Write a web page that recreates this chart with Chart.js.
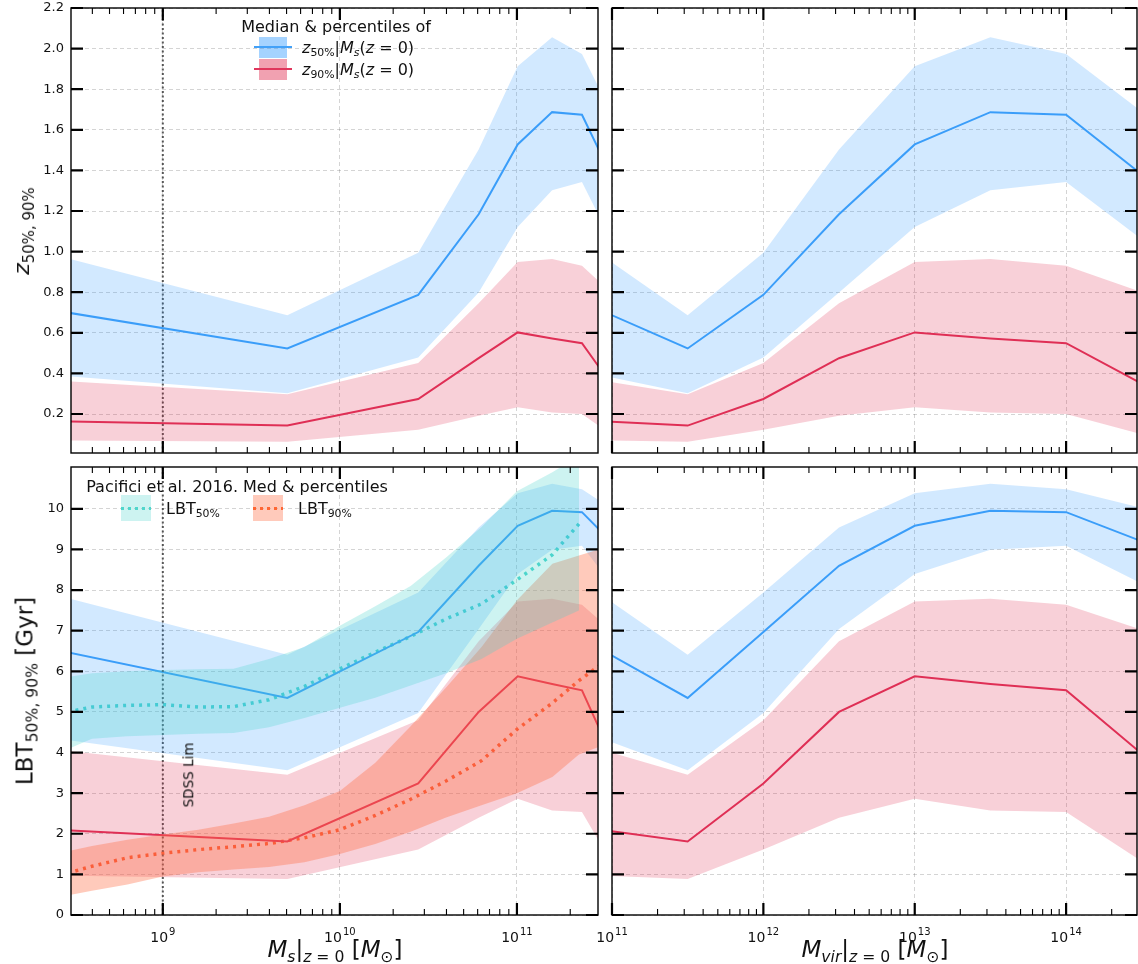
<!DOCTYPE html>
<html>
<head>
<meta charset="utf-8">
<title>Formation redshift and lookback time vs mass</title>
<script src="https://cdn.jsdelivr.net/npm/chart.js@4.4.1/dist/chart.umd.min.js"></script>
<style>
  html, body { margin: 0; padding: 0; background: #fff; }
  #fig { position: relative; width: 1138px; height: 964px; overflow: hidden; font-family: 'DejaVu Sans', sans-serif; color: #111; }
  #fig canvas { position: absolute; left: 0; top: 0; }
  .txt { position: absolute; white-space: nowrap; line-height: 1; }
  .rot { transform: translate(-50%, -50%) rotate(-90deg); }
  .ctr { transform: translate(-50%, -50%); }
  .mid { transform: translateY(-50%); }
  .m { font-style: italic; }
  sub { font-size: 0.68em; vertical-align: -0.32em; line-height: 0; }
  .box { position: absolute; }
</style>
</head>
<body>
<div id="fig">
  <canvas id="tl" width="1138" height="964"></canvas>
  <canvas id="tr" width="1138" height="964"></canvas>
  <canvas id="bl" width="1138" height="964"></canvas>
  <canvas id="br" width="1138" height="964"></canvas>

  <!-- top-left legend -->
  <div class="txt ctr" style="left:336px;top:27px;font-size:16px">Median &amp; percentiles of</div>
  <div class="box" style="left:259px;top:37px;width:28px;height:21px;background:rgba(30,144,255,0.4)"></div>
  <div class="box" style="left:254px;top:46px;width:38px;height:2px;background:#42a1f8"></div>
  <div class="box" style="left:259px;top:59px;width:28px;height:21px;background:rgba(220,20,60,0.4)"></div>
  <div class="box" style="left:254px;top:68px;width:38px;height:2px;background:#e0365c"></div>
  <div class="txt mid" style="left:302px;top:48px;font-size:16px"><span class="m">z</span><sub>50%</sub>|<span class="m">M<sub>s</sub></span>(<span class="m">z</span> = 0)</div>
  <div class="txt mid" style="left:302px;top:70px;font-size:16px"><span class="m">z</span><sub>90%</sub>|<span class="m">M<sub>s</sub></span>(<span class="m">z</span> = 0)</div>

  <!-- bottom-left legend -->
  <div class="txt ctr" style="left:237px;top:487px;font-size:16px">Pacifici et al. 2016. Med &amp; percentiles</div>
  <div class="box" style="left:121px;top:495px;width:30px;height:26px;background:rgba(72,209,204,0.27)"></div>
  <div class="box" style="left:121px;top:507px;width:30px;height:3px;background:repeating-linear-gradient(to right,#4fd6cc 0 3px,transparent 3px 7px)"></div>
  <div class="txt mid" style="left:166px;top:509px;font-size:16px">LBT<sub>50%</sub></div>
  <div class="box" style="left:253px;top:495px;width:30px;height:26px;background:rgba(255,110,70,0.37)"></div>
  <div class="box" style="left:253px;top:507px;width:30px;height:3px;background:repeating-linear-gradient(to right,#ff6633 0 3px,transparent 3px 7px)"></div>
  <div class="txt mid" style="left:298px;top:509px;font-size:16px">LBT<sub>90%</sub></div>

  <div class="txt rot" style="left:189px;top:775px;font-size:13.5px">SDSS Lim</div>

  <!-- axis titles -->
  <div class="txt rot" style="left:22px;top:231px;font-size:22px"><span class="m">z</span><sub>50%, 90%</sub></div>
  <div class="txt rot" style="left:25px;top:691px;font-size:23px">LBT<sub>50%, 90%</sub> [Gyr]</div>
  <div class="txt ctr" style="left:335px;top:949px;font-size:23px"><span class="m">M<sub>s</sub></span>|<sub><span class="m">z</span> = 0</sub> [<span class="m">M</span><sub>⊙</sub>]</div>
  <div class="txt ctr" style="left:875px;top:949px;font-size:23px"><span class="m">M<sub>vir</sub></span>|<sub><span class="m">z</span> = 0</sub> [<span class="m">M</span><sub>⊙</sub>]</div>
</div>

<script>
(() => {
  'use strict';

  // bin positions: halo mass and the matching stellar mass
  const mvirBins = [8.9e10, 3.16e11, 1e12, 3.16e12, 1e13, 3.16e13, 1e14, 3.16e14];
  const msBins = [2.75e8, 5.05e9, 2.77e10, 6.08e10, 1.01e11, 1.58e11, 2.33e11, 3.39e11];

  // formation redshifts (median and percentile envelope)
  const z50Med = [0.703, 0.523, 0.787, 1.184, 1.528, 1.687, 1.674, 1.38];
  const z50Hi = [0.972, 0.687, 0.995, 1.503, 1.913, 2.056, 1.974, 1.69];
  const z50Lo = [0.388, 0.302, 0.479, 0.798, 1.121, 1.302, 1.343, 1.06];
  const z90Med = [0.164, 0.143, 0.274, 0.475, 0.602, 0.572, 0.549, 0.35];
  const z90Hi = [0.362, 0.298, 0.451, 0.746, 0.949, 0.964, 0.930, 0.80];
  const z90Lo = [0.070, 0.064, 0.123, 0.192, 0.233, 0.208, 0.200, 0.10];

  // lookback times [Gyr]
  const lbt50Med = [6.49, 5.344, 6.967, 8.598, 9.582, 9.951, 9.918, 9.2];
  const lbt50Hi = [7.83, 6.41, 7.943, 9.541, 10.385, 10.615, 10.484, 10.02];
  const lbt50Lo = [4.32, 3.566, 4.975, 7.041, 8.393, 8.992, 9.09, 8.16];
  const lbt90Med = [2.09, 1.811, 3.238, 5.0, 5.877, 5.689, 5.533, 3.97];
  const lbt90Hi = [4.05, 3.451, 4.795, 6.738, 7.721, 7.787, 7.639, 7.02];
  const lbt90Lo = [0.97, 0.885, 1.615, 2.393, 2.861, 2.574, 2.533, 1.32];

  // Pacifici et al. 2016
  const pacMs50 = [2.9e8, 3.98e8, 6.31e8, 1e9, 1.585e9, 2.51e9, 3.98e9, 6.31e9, 1e10, 1.585e10, 2.51e10, 3.98e10, 6.31e10, 1e11, 1.585e11, 2.24e11];
  const pac50Med = [5.0, 5.12, 5.16, 5.18, 5.12, 5.13, 5.3, 5.63, 6.06, 6.47, 6.86, 7.29, 7.66, 8.25, 8.87, 9.63];
  const pac50Hi = [5.86, 5.95, 6.0, 6.03, 6.05, 6.06, 6.3, 6.6, 7.12, 7.6, 8.1, 8.8, 9.55, 10.43, 10.9, 11.3];
  const pac50Lo = [4.08, 4.34, 4.4, 4.43, 4.46, 4.48, 4.62, 4.85, 5.1, 5.35, 5.65, 5.95, 6.3, 6.8, 7.2, 7.5];
  const pacMs90 = [2.9e8, 3.98e8, 6.31e8, 1e9, 1.585e9, 2.51e9, 3.98e9, 6.31e9, 1e10, 1.585e10, 2.51e10, 3.98e10, 6.31e10, 1e11, 1.585e11, 2.24e11, 3.16e11];
  const pac90Med = [1.03, 1.2, 1.41, 1.52, 1.61, 1.68, 1.76, 1.9, 2.1, 2.45, 2.85, 3.3, 3.8, 4.57, 5.22, 5.77, 6.25];
  const pac90Hi = [1.57, 1.7, 1.85, 1.98, 2.1, 2.25, 2.42, 2.7, 3.05, 3.75, 4.65, 5.6, 6.6, 7.75, 8.65, 8.85, 9.05];
  const pac90Lo = [0.48, 0.6, 0.75, 0.95, 1.05, 1.12, 1.18, 1.3, 1.5, 1.75, 2.05, 2.4, 2.7, 3.0, 3.4, 3.95, 4.2];

  const sdssLim = 1e9;

  // axis ranges and tick values
  const msRange = [3.03e8, 2.87e11];
  const mvirRange = [1e11, 2.94e14];
  const zRange = [0.008, 2.2];
  const lbtRange = [0, 11.03];
  const zTicks = [0.2, 0.4, 0.6, 0.8, 1.0, 1.2, 1.4, 1.6, 1.8, 2.0, 2.2];
  const lbtTicks = [0, 1, 2, 3, 4, 5, 6, 7, 8, 9, 10];

  const BLUE = '#42a1f8', BLUE_BAND = 'rgba(30,144,255,0.2)';
  const RED = '#e0365c', RED_BAND = 'rgba(220,20,60,0.2)';
  const CYAN = '#4fd6cc', CYAN_BAND = 'rgba(72,209,204,0.27)';
  const ORANGE = '#ff6633', ORANGE_BAND = 'rgba(255,110,70,0.37)';
  const GRID = 'rgba(0,0,0,0.17)';
  const NONE = 'rgba(0,0,0,0)';
  const FONT = "'DejaVu Sans', sans-serif";

  Chart.defaults.font.family = FONT;
  Chart.defaults.color = '#111';

  const isDecade = v => Math.abs(Math.log10(v) - Math.round(Math.log10(v))) < 1e-6;

  function logTicks(min, max) {
    const out = [];
    for (let e = Math.floor(Math.log10(min)); e <= Math.ceil(Math.log10(max)); e++) {
      for (let m = 1; m <= 9; m++) {
        const v = m * Math.pow(10, e);
        if (v >= min * 0.999999 && v <= max * 1.000001) out.push(v);
      }
    }
    return out;
  }

  const pts = (xs, ys) => xs.map((x, i) => ({ x, y: ys[i] }));

  function band(xs, hi, lo, color) {
    return [
      { data: pts(xs, hi), borderColor: NONE, borderWidth: 0, backgroundColor: color, fill: '+1' },
      { data: pts(xs, lo), borderColor: NONE, borderWidth: 0, fill: false }
    ];
  }

  function line(xs, ys, color, width, dash) {
    return { data: pts(xs, ys), borderColor: color, borderWidth: width, borderDash: dash || [], borderCapStyle: 'butt', fill: false };
  }

  function vline(x, range) {
    return { data: [{ x, y: range[0] }, { x, y: range[1] }], borderColor: 'rgba(60,60,60,0.85)', borderWidth: 2, borderDash: [2, 2.5], fill: false };
  }

  // inward tick marks on all four sides, the frame, and 10^n labels
  const frameTicks = {
    id: 'frameTicks',
    afterDatasetsDraw(chart, args, opts) {
      const { ctx, chartArea: a, scales: { x, y } } = chart;
      ctx.save();
      ctx.strokeStyle = '#000';
      x.ticks.forEach(t => {
        const px = x.getPixelForValue(t.value);
        const major = isDecade(t.value);
        const len = major ? 12 : 6;
        ctx.lineWidth = major ? 2.2 : 1.1;
        ctx.beginPath();
        ctx.moveTo(px, a.bottom); ctx.lineTo(px, a.bottom - len);
        ctx.moveTo(px, a.top); ctx.lineTo(px, a.top + len);
        ctx.stroke();
      });
      ctx.lineWidth = 2.2;
      y.ticks.forEach(t => {
        const py = y.getPixelForValue(t.value);
        ctx.beginPath();
        ctx.moveTo(a.left, py); ctx.lineTo(a.left + 12, py);
        ctx.moveTo(a.right, py); ctx.lineTo(a.right - 12, py);
        ctx.stroke();
      });
      ctx.lineWidth = 1.4;
      ctx.strokeRect(a.left, a.top, a.right - a.left, a.bottom - a.top);

      if (opts.labels) {
        ctx.fillStyle = '#111';
        ctx.textBaseline = 'alphabetic';
        ctx.textAlign = 'left';
        x.ticks.filter(t => isDecade(t.value)).forEach(t => {
          const px = x.getPixelForValue(t.value);
          const exp = String(Math.round(Math.log10(t.value)));
          ctx.font = '14px ' + FONT;
          const wb = ctx.measureText('10').width;
          ctx.font = '10px ' + FONT;
          const we = ctx.measureText(exp).width;
          const x0 = px - (wb + we + 1) / 2;
          ctx.font = '14px ' + FONT;
          ctx.fillText('10', x0, a.bottom + 27);
          ctx.font = '10px ' + FONT;
          ctx.fillText(exp, x0 + wb + 1, a.bottom + 20);
        });
      }
      ctx.restore();
    }
  };

  function xScale(range) {
    return {
      type: 'logarithmic',
      min: range[0],
      max: range[1],
      afterBuildTicks: s => { s.ticks = logTicks(range[0], range[1]).map(value => ({ value })); },
      afterFit: s => { s.height = 0; s.paddingLeft = 0; s.paddingRight = 0; },
      ticks: { display: false, autoSkip: false },
      grid: { drawTicks: false, lineWidth: 1, color: c => (c.tick && isDecade(c.tick.value) ? GRID : NONE) },
      border: { display: false, dash: [4, 3] }
    };
  }

  function yScale(range, ticks, fmt, showLabels) {
    return {
      min: range[0],
      max: range[1],
      afterBuildTicks: s => { s.ticks = ticks.map(value => ({ value })); },
      afterFit: s => { s.width = showLabels ? 71 : 0; s.paddingTop = 0; s.paddingBottom = 0; },
      ticks: { display: showLabels, padding: 7, font: { size: 13 }, callback: fmt },
      grid: { drawTicks: false, lineWidth: 1, color: GRID },
      border: { display: false, dash: [4, 3] }
    };
  }

  function panel(id, padding, datasets, x, y, labels) {
    return new Chart(document.getElementById(id), {
      type: 'line',
      data: { datasets },
      options: {
        responsive: false,
        animation: false,
        events: [],
        layout: { padding },
        elements: { point: { radius: 0 }, line: { tension: 0 } },
        plugins: { legend: { display: false }, tooltip: { enabled: false }, frameTicks: { labels } },
        scales: { x, y }
      },
      plugins: [frameTicks]
    });
  }

  const zFmt = v => v.toFixed(1);
  const lbtFmt = v => String(v);

  panel('tl', { left: 0, right: 540, top: 8, bottom: 511 }, [
    ...band(msBins, z50Hi, z50Lo, BLUE_BAND),
    ...band(msBins, z90Hi, z90Lo, RED_BAND),
    vline(sdssLim, zRange),
    line(msBins, z50Med, BLUE, 2),
    line(msBins, z90Med, RED, 2)
  ], xScale(msRange), yScale(zRange, zTicks, zFmt, true), false);

  panel('tr', { left: 612, right: 1, top: 8, bottom: 511 }, [
    ...band(mvirBins, z50Hi, z50Lo, BLUE_BAND),
    ...band(mvirBins, z90Hi, z90Lo, RED_BAND),
    line(mvirBins, z50Med, BLUE, 2),
    line(mvirBins, z90Med, RED, 2)
  ], xScale(mvirRange), yScale(zRange, zTicks, zFmt, false), false);

  panel('bl', { left: 0, right: 540, top: 467, bottom: 49 }, [
    ...band(pacMs50, pac50Hi, pac50Lo, CYAN_BAND),
    ...band(pacMs90, pac90Hi, pac90Lo, ORANGE_BAND),
    ...band(msBins, lbt50Hi, lbt50Lo, BLUE_BAND),
    ...band(msBins, lbt90Hi, lbt90Lo, RED_BAND),
    vline(sdssLim, lbtRange),
    line(msBins, lbt50Med, BLUE, 2),
    line(msBins, lbt90Med, RED, 2),
    line(pacMs50, pac50Med, CYAN, 3.5, [3, 5]),
    line(pacMs90, pac90Med, ORANGE, 3.5, [3, 5])
  ], xScale(msRange), yScale(lbtRange, lbtTicks, lbtFmt, true), true);

  panel('br', { left: 612, right: 1, top: 467, bottom: 49 }, [
    ...band(mvirBins, lbt50Hi, lbt50Lo, BLUE_BAND),
    ...band(mvirBins, lbt90Hi, lbt90Lo, RED_BAND),
    line(mvirBins, lbt50Med, BLUE, 2),
    line(mvirBins, lbt90Med, RED, 2)
  ], xScale(mvirRange), yScale(lbtRange, lbtTicks, lbtFmt, false), true);
})();
</script>
</body>
</html>
